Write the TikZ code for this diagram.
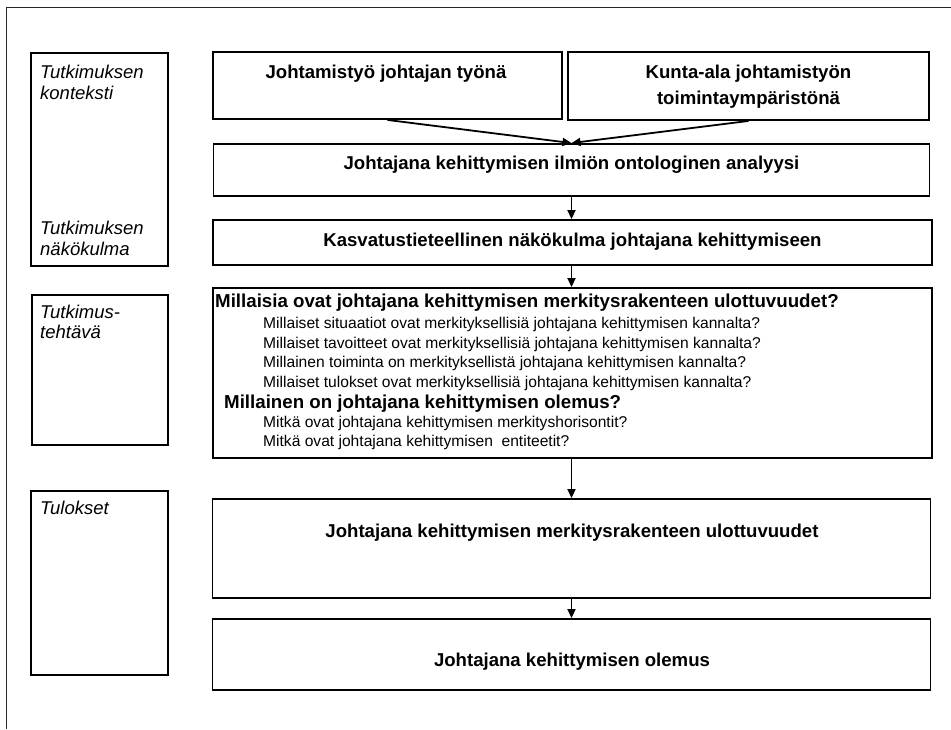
\documentclass[tikz,border=0pt]{standalone}
\usepackage{fontspec}
\setmainfont{Liberation Sans}
\usetikzlibrary{arrows.meta}
\begin{document}
\begin{tikzpicture}[x=1pt,y=-1pt,
  bx/.style={draw=black,line width=1.9pt,inner sep=0pt,fill=white},
  lbl/.style={inner sep=0pt,anchor=base west,font=\fontsize{18.5}{22}\selectfont\itshape},
  hd/.style={inner sep=0pt,anchor=base,font=\fontsize{18.6}{22}\selectfont\bfseries},
  qb/.style={inner sep=0pt,anchor=base west,font=\fontsize{18.7}{22}\selectfont\bfseries},
  qs/.style={inner sep=0pt,anchor=base west,font=\fontsize{15.6}{18}\selectfont},
  arr/.style={draw=black,line width=1.8pt,-{Triangle[length=9pt,width=8pt]}}]
\useasboundingbox (0,0) rectangle (951,729);
% page frame (top and left edges)
\coordinate (fa) at (6,729);
\coordinate (fb) at (6,7);
\coordinate (fc) at (951,7);
\draw[line width=1pt,black!85] (fa) -- (fb) -- (fc);

% left column: labels
\node[bx,minimum width=137,minimum height=213] (ctx) at (99.5,159.5) {};
\node[bx,minimum width=136,minimum height=150] (task) at (100,370) {};
\node[bx,minimum width=137,minimum height=184] (res) at (99.5,583) {};
\node[lbl] (l1) at (40,78) {Tutkimuksen};
\node[lbl] (l2) at (40,99) {konteksti};
\node[lbl] (l3) at (40,234.5) {Tutkimuksen};
\node[lbl] (l4) at (40,255.5) {näkökulma};
\node[lbl] (l5) at (40,318) {Tutkimus-};
\node[lbl] (l6) at (40,338) {tehtävä};
\node[lbl] (l7) at (40,514) {Tulokset};

% main column: boxes
\node[bx,minimum width=349,minimum height=67] (tl) at (387.5,85.5) {};
\node[bx,minimum width=361,minimum height=68] (tr) at (748.5,86) {};
\node[bx,minimum width=716,minimum height=52] (onto) at (571.5,170) {};
\node[bx,minimum width=719,minimum height=45] (nak) at (572.5,242.5) {};
\node[bx,minimum width=719,minimum height=170] (q) at (572.5,373) {};
\node[bx,minimum width=718,minimum height=99] (mr) at (571.5,548.5) {};
\node[bx,minimum width=718,minimum height=71] (ol) at (571.5,654.5) {};

% box texts
\node[hd] (t1) at (386,78.5) {Johtamistyö johtajan työnä};
\node[hd] (t2) at (748.5,78.5) {Kunta-ala johtamistyön};
\node[hd] (t3) at (748.5,104) {toimintaympäristönä};
\node[hd] (t4) at (571.5,169.5) {Johtajana kehittymisen ilmiön ontologinen analyysi};
\node[hd] (t5) at (572.5,246.5) {Kasvatustieteellinen näkökulma johtajana kehittymiseen};
\node[hd] (t6) at (572,537.5) {Johtajana kehittymisen merkitysrakenteen ulottuvuudet};
\node[hd] (t7) at (572,666.5) {Johtajana kehittymisen olemus};

% research questions
\node[qb] (q1) at (215,307) {Millaisia ovat johtajana kehittymisen merkitysrakenteen ulottuvuudet?};
\node[qs] (q2) at (263,328.5) {Millaiset situaatiot ovat merkityksellisiä johtajana kehittymisen kannalta?};
\node[qs] (q3) at (263,348) {Millaiset tavoitteet ovat merkityksellisiä johtajana kehittymisen kannalta?};
\node[qs] (q4) at (263,367.5) {Millainen toiminta on merkityksellistä johtajana kehittymisen kannalta?};
\node[qs] (q5) at (263,387) {Millaiset tulokset ovat merkityksellisiä johtajana kehittymisen kannalta?};
\node[qb] (q6) at (224,408.5) {Millainen on johtajana kehittymisen olemus?};
\node[qs] (q7) at (263,427.5) {Mitkä ovat johtajana kehittymisen merkityshorisontit?};
\node[qs] (q8) at (263,446.5) {Mitkä ovat johtajana kehittymisen\ \ entiteetit?};

% connectors
\draw[arr] (tl.south) -- (onto.north);
\draw[arr] (tr.south) -- (onto.north);
\draw[arr] (onto.south) -- (onto.south |- nak.north);
\draw[arr] (onto.south |- nak.south) -- (onto.south |- q.north);
\draw[arr] (onto.south |- q.south) -- (onto.south |- mr.north);
\draw[arr] (mr.south) -- (ol.north);
\end{tikzpicture}
\end{document}
